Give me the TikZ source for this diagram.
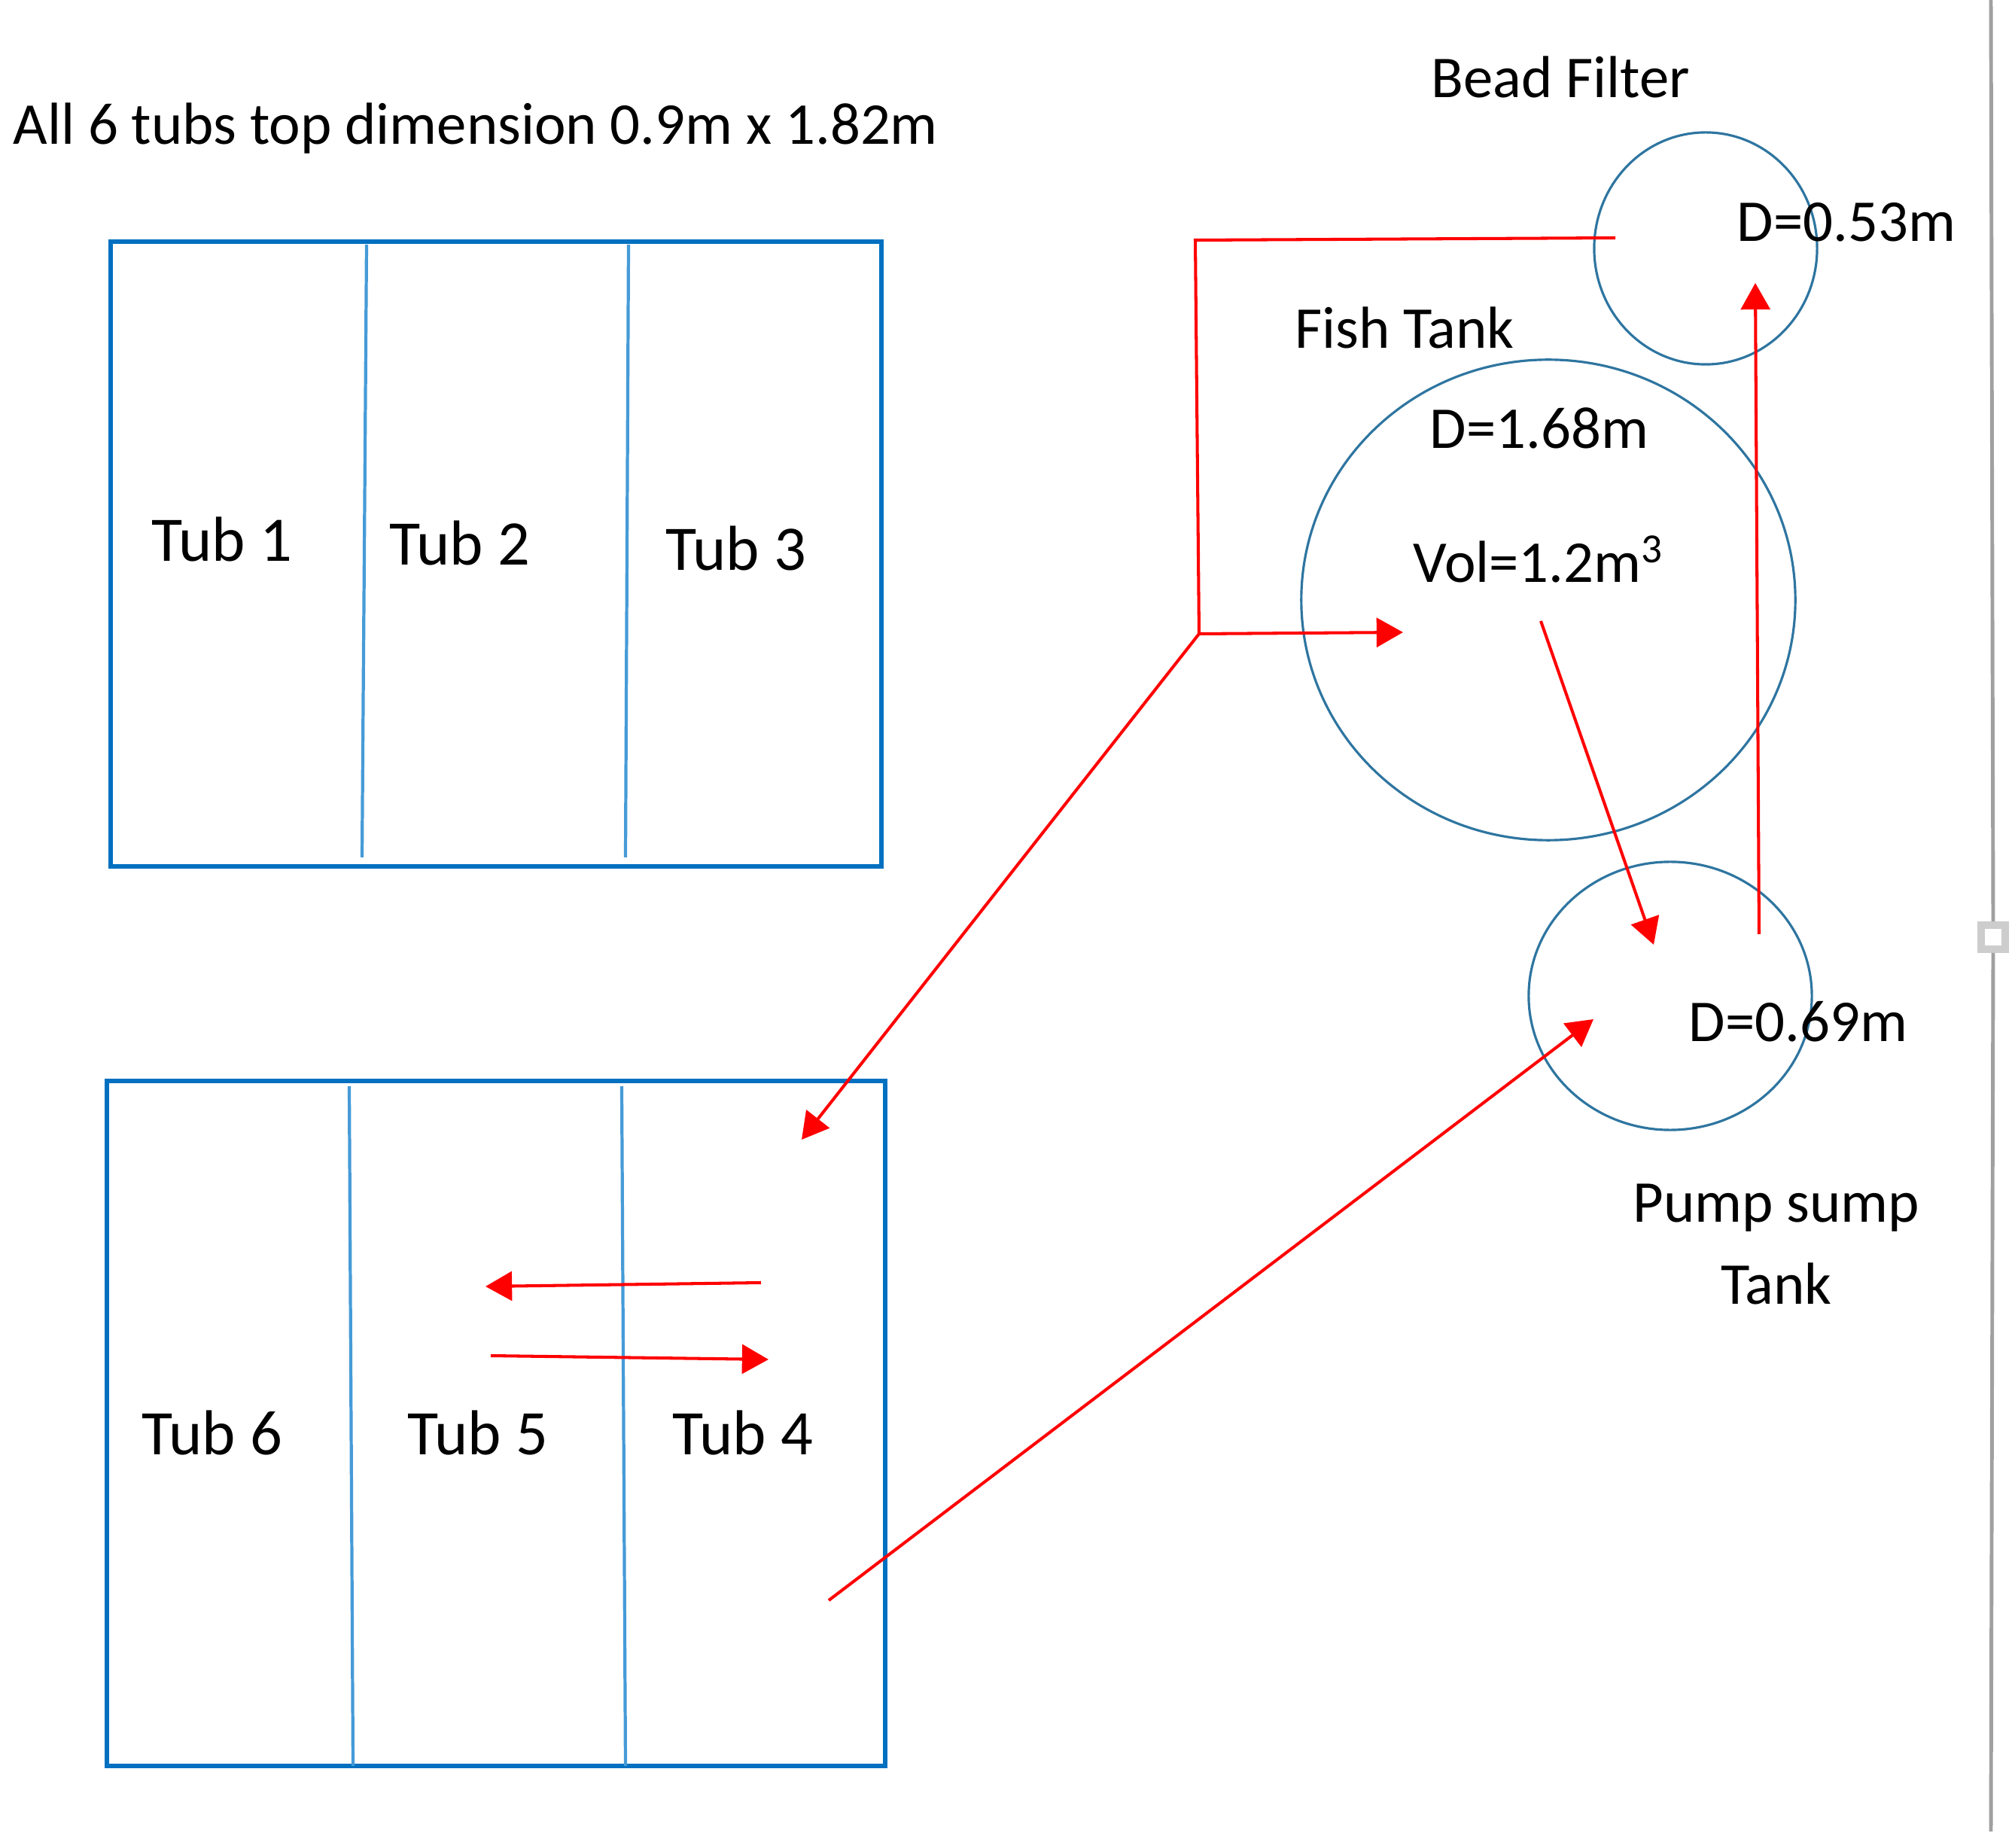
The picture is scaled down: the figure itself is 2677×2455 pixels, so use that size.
\documentclass[tikz,border=0pt]{standalone}
\usepackage{fontspec}
\setmainfont{Carlito}
\usetikzlibrary{arrows.meta}
\definecolor{tubblue}{RGB}{0,112,192}
\definecolor{wallblue}{RGB}{70,155,215}
\definecolor{tankblue}{RGB}{46,117,160}
\definecolor{pipered}{RGB}{255,0,0}
\definecolor{framegray}{RGB}{160,160,160}
\definecolor{handlegray}{RGB}{205,205,205}
\tikzstyle{tub}=[draw=tubblue,line width=1.6pt]
\tikzstyle{wall}=[draw=wallblue,line width=1.2pt]
\tikzstyle{tank}=[draw=tankblue,line width=0.9pt]
\tikzstyle{pipe}=[draw=pipered,line width=1.15pt]
\tikzstyle{flow}=[pipe,-{Triangle[length=10pt,width=11pt]}]
\tikzstyle{txt}=[font=\fontsize{22.4}{27}\selectfont,inner sep=0pt]
\tikzstyle{tubtxt}=[font=\fontsize{24}{29}\selectfont,inner sep=0pt]

\begin{document}
\begin{tikzpicture}[x=0.01cm,y=-0.01cm]
	\useasboundingbox (0,0) rectangle (2677,2455);
	\node[txt,anchor=west] (title) at (17,171) {All 6 tubs top dimension 0.9m x 1.82m};
	% upper row of tubs
	\begin{scope}
	\draw[tub] (147,321) rectangle (1171,1151);
	\draw[wall] (487,325) -- (481,1139);
	\draw[wall] (835,325) -- (831,1139);
	\node[tubtxt] (tub1) at (295,717) {Tub 1};
	\node[tubtxt] (tub2) at (611,722) {Tub 2};
	\node[tubtxt] (tub3) at (978,729) {Tub 3};
	\end{scope}
	% lower row of tubs
	\begin{scope}
	\draw[tub] (142,1436) rectangle (1176,2346);
	\draw[wall] (464,1443) -- (469,2346);
	\draw[wall] (826,1443) -- (831,2346);
	\node[tubtxt] (tub6) at (282,1904) {Tub 6};
	\node[tubtxt] (tub5) at (635,1904) {Tub 5};
	\node[tubtxt] (tub4) at (987,1904) {Tub 4};
	\end{scope}
	% tanks
	\coordinate (bead) at (2266,330);
	\coordinate (fish) at (2057,797);
	\coordinate (sump) at (2219,1323);
	\draw[tank] (bead) ellipse (1.48cm and 1.54cm);
	\draw[tank] (fish) ellipse (3.28cm and 3.19cm);
	\draw[tank] (sump) ellipse (1.88cm and 1.78cm);
	\node[txt] (beadname) at (2073,102) {Bead Filter};
	\node[txt] (beadsize) at (2453,295) {D=0.53m};
	\node[txt] (fishname) at (1866,435) {Fish Tank};
	\node[txt] (fishsize) at (2045,569) {D=1.68m};
	\node[txt] (fishvol) at (2044,743) {Vol=1.2m\textsuperscript{3}};
	\node[txt] (sumpsize) at (2389,1357) {D=0.69m};
	\node[txt,align=center] (sumpname) at (2360,1653) {Pump sump\\[4pt]Tank};
	% pipework
	\coordinate (beadout) at (2146,316);
	\coordinate (bend) at (1588,319);
	\coordinate (split) at (1593,842);
	\coordinate (fishin) at (1864,840);
	\coordinate (tubsin) at (1065,1514);
	\coordinate (fishout) at (2047,825);
	\coordinate (sumpin) at (2197,1255);
	\coordinate (sumpout) at (2337,1241);
	\coordinate (beadin) at (2332,376);
	\coordinate (tubsout) at (1101,2126);
	\coordinate (returnin) at (2117,1354);
	\draw[pipe] (beadout) -- (bend) -- (split);
	\draw[flow] (split) -- (fishin);
	\draw[flow] (split) -- (tubsin);
	\draw[flow] (fishout) -- (sumpin);
	\draw[flow] (sumpout) -- (beadin);
	\draw[flow] (tubsout) -- (returnin);
	\coordinate (backA) at (1011,1704);
	\coordinate (backB) at (645,1709);
	\coordinate (foreA) at (652,1801);
	\coordinate (foreB) at (1021,1806);
	\draw[flow] (backA) -- (backB);
	\draw[flow] (foreA) -- (foreB);
	% page edge
	\coordinate (edgetop) at (2645,0);
	\coordinate (edgebot) at (2645,2433);
	\node[draw=handlegray,line width=2.8pt,minimum size=0.32cm,inner sep=0pt,fill=white] (handle) at (2648,1245) {};
	\draw[framegray,line width=1.4pt] (edgetop) -- (handle.north);
	\draw[framegray,line width=1.4pt] (handle.south) -- (edgebot);
\end{tikzpicture}
\end{document}
